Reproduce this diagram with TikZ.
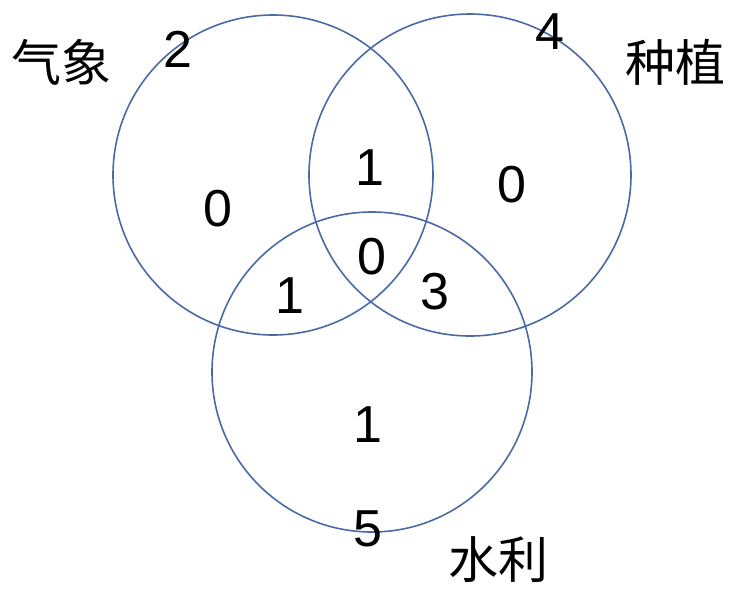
\documentclass[tikz,border=0pt]{standalone}
\usepackage{fontspec}
\setmainfont{Liberation Sans}
\newfontfamily\cjk{Noto Sans CJK SC}
\definecolor{ringblue}{HTML}{4A6AA5}
\begin{document}
\begin{tikzpicture}[x=1pt,y=-1pt,
  ring/.style={draw=ringblue,line width=1.6pt},
  num/.style={inner sep=0pt,font=\fontsize{52}{60}\selectfont},
  lab/.style={inner sep=0pt,font=\cjk\fontsize{50}{58}\selectfont}]
\useasboundingbox (0,0) rectangle (732,590);
\node[ring,circle,minimum size=320pt,inner sep=0pt] (qx) at (273,175) {};
\node[ring,circle,minimum size=322pt,inner sep=0pt] (zz) at (470,175) {};
\node[ring,circle,minimum size=320pt,inner sep=0pt] (sl) at (372,372) {};
\node[lab] (tqx) at (62,62) {气象};
\node[lab] (tzz) at (675,62) {种植};
\node[lab] (tsl) at (498,560) {水利};
\node[num] (n2) at (178,49) {2};
\node[num] (n4) at (550,32) {4};
\node[num] (a) at (218,209) {0};
\node[num] (ab) at (370,168) {1};
\node[num] (b) at (512,185) {0};
\node[num] (abc) at (372,257) {0};
\node[num] (ac) at (290,296) {1};
\node[num] (bc) at (435,292) {3};
\node[num] (c) at (368,425) {1};
\node[num] (n5) at (368,529) {5};
\end{tikzpicture}
\end{document}
